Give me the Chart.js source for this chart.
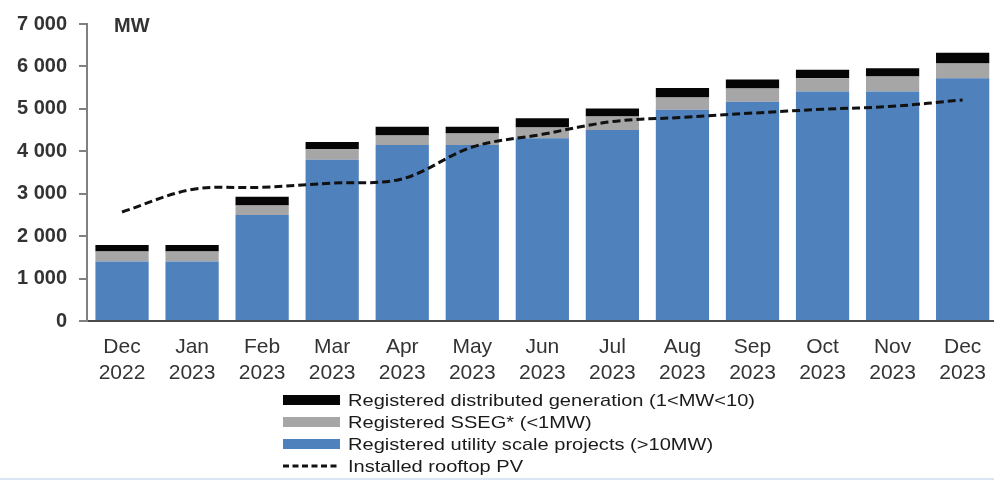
<!DOCTYPE html>
<html>
<head>
<meta charset="utf-8">
<script src="https://cdn.jsdelivr.net/npm/chart.js@4.4.0/dist/chart.umd.min.js"></script>
<style>
  html, body { margin: 0; padding: 0; background: #fff; overflow: hidden; }
  #wrap { position: relative; width: 1000px; height: 480px; }
  #strip { position: absolute; left: 0; bottom: 0; width: 994px; height: 2px; background: #dbe6f4; }
</style>
</head>
<body>
<div id="wrap"><canvas id="myChart"></canvas></div>
<div id="strip"></div>
<script>
'use strict';

// months on the x axis, two lines each
let months = [
  ['Dec', '2022'], ['Jan', '2023'], ['Feb', '2023'], ['Mar', '2023'], ['Apr', '2023'],
  ['May', '2023'], ['Jun', '2023'], ['Jul', '2023'], ['Aug', '2023'], ['Sep', '2023'],
  ['Oct', '2023'], ['Nov', '2023'], ['Dec', '2023']
];

// MW per month
let utilityScale = [1400, 1400, 2500, 3800, 4150, 4150, 4310, 4500, 4980, 5170, 5410, 5410, 5720];
let sseg = [240, 240, 220, 250, 220, 270, 250, 320, 290, 310, 310, 350, 350];
let distributed = [150, 150, 210, 170, 210, 160, 220, 190, 220, 210, 200, 200, 250];
let rooftopPV = [2570, 3100, 3150, 3250, 3350, 4100, 4400, 4700, 4800, 4900, 4990, 5060, 5210];

let yTicks = [0, 1000, 2000, 3000, 4000, 5000, 6000, 7000];

let labelDist = 'Registered distributed generation (1<MW<10)';
let labelSseg = 'Registered SSEG* (<1MW)';
let labelUtility = 'Registered utility scale projects (>10MW)';
let labelPV = 'Installed rooftop PV';

let blue = '#4f81bd';
let grey = '#a6a6a6';
let black = '#050505';

function formatMW(v) {
  // 7000 -> "7 000"
  let s = String(v);
  if (s.length > 3) s = s.slice(0, s.length - 3) + ' ' + s.slice(s.length - 3);
  return s;
}

// unit label + the stacked legend under the axis
let extras = {
  id: 'extras',
  afterDraw(chart) {
    let ctx = chart.ctx;
    let area = chart.chartArea;
    ctx.save();
    ctx.fillStyle = '#333';
    ctx.font = 'bold 20px "Liberation Sans", Arial, sans-serif';
    ctx.textBaseline = 'alphabetic';
    ctx.fillText('MW', area.left + 27, area.top + 8);

    let items = [
      { text: labelDist, color: black },
      { text: labelSseg, color: grey },
      { text: labelUtility, color: blue },
      { text: labelPV, dashed: true }
    ];
    let x0 = 283, boxW = 57, textX = 348;
    let rows = [400, 422, 444, 466];
    ctx.font = '17px "Liberation Sans", Arial, sans-serif';
    ctx.textBaseline = 'middle';
    for (let i = 0; i < items.length; i++) {
      let y = rows[i];
      if (items[i].dashed) {
        ctx.strokeStyle = '#111';
        ctx.lineWidth = 3;
        ctx.setLineDash([6, 3.5]);
        ctx.beginPath();
        ctx.moveTo(x0, y);
        ctx.lineTo(x0 + boxW, y);
        ctx.stroke();
        ctx.setLineDash([]);
      } else {
        ctx.fillStyle = items[i].color;
        ctx.fillRect(x0, y - 5, boxW, 10);
      }
      ctx.save();
      ctx.translate(textX, y + 1);
      ctx.scale(1.18, 1);
      ctx.fillStyle = '#1a1a1a';
      ctx.fillText(items[i].text, 0, 0);
      ctx.restore();
    }
    ctx.restore();
  }
};

let ctx = document.getElementById('myChart').getContext('2d');
let chart = new Chart(ctx, {
  type: 'bar',
  data: {
    labels: months,
    datasets: [{
      type: 'line',
      label: labelPV,
      data: rooftopPV,
      borderColor: '#111',
      borderWidth: 3,
      borderDash: [8, 4],
      pointRadius: 0,
      tension: 0.35,
      fill: false,
      stack: 'pv',
      order: 0
    }, {
      label: labelUtility,
      data: utilityScale,
      backgroundColor: blue,
      stack: 'reg',
      order: 1
    }, {
      label: labelSseg,
      data: sseg,
      backgroundColor: grey,
      stack: 'reg',
      order: 1
    }, {
      label: labelDist,
      data: distributed,
      backgroundColor: black,
      stack: 'reg',
      order: 1
    }]
  },
  options: {
    responsive: true,
    maintainAspectRatio: false,
    animation: false,
    datasets: {
      bar: { categoryPercentage: 1, barPercentage: 0.76 }
    },
    layout: { padding: { top: 20, left: 0, right: 0, bottom: 94 } },
    plugins: {
      legend: { display: false },
      tooltip: { enabled: false }
    },
    scales: {
      x: {
        stacked: true,
        grid: { display: false, drawTicks: false },
        border: { display: true, color: '#4a4a4a', width: 2 },
        ticks: {
          color: '#333',
          padding: 14,
          maxRotation: 0,
          autoSkip: false,
          font: { family: '"Liberation Sans", Arial, sans-serif', size: 21, lineHeight: 1.2 }
        },
        afterFit(scale) { scale.height = 65; }
      },
      y: {
        stacked: true,
        min: 0,
        max: 7000,
        afterBuildTicks(scale) { scale.ticks = yTicks.map(v => ({ value: v })); },
        grid: { drawOnChartArea: false, drawTicks: true, tickLength: 8, color: '#808080', lineWidth: 2 },
        border: { display: true, color: '#808080', width: 2 },
        ticks: {
          color: '#333',
          padding: 12,
          font: { family: '"Liberation Sans", Arial, sans-serif', size: 20, weight: 'bold' },
          callback: v => formatMW(v)
        },
        afterFit(scale) { scale.width = 87; }
      }
    }
  },
  plugins: [extras]
});
</script>
</body>
</html>
